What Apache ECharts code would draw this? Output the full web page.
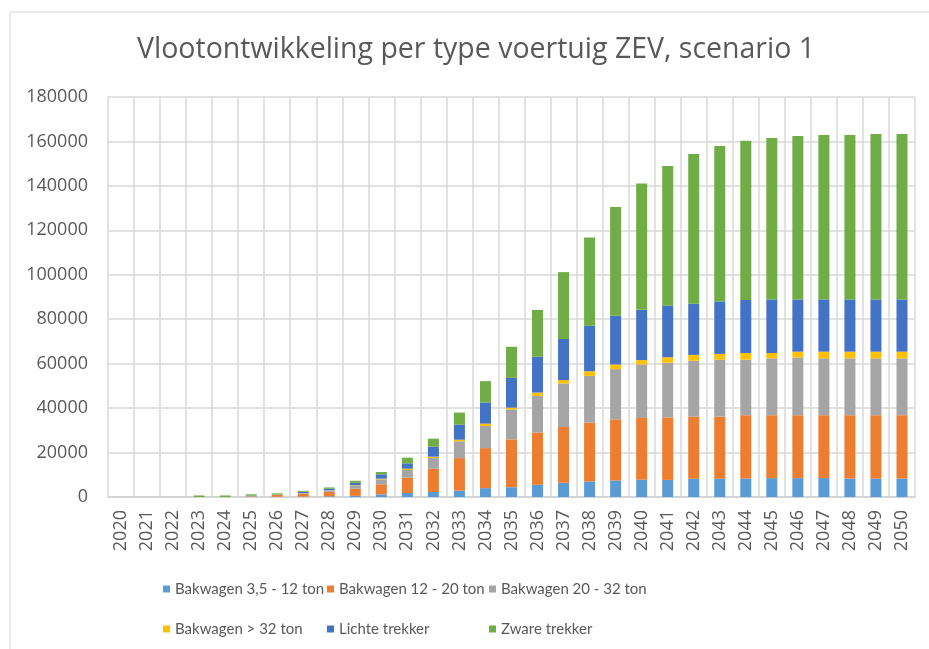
<!DOCTYPE html>
<html>
<head>
<meta charset="utf-8">
<script src="https://cdn.jsdelivr.net/npm/echarts@6/dist/echarts.min.js"></script>
<style>
    html, body { margin: 0; padding: 0; background: #fff; }
    #chart { width: 929px; height: 649px; }
</style>
</head>
<body>
<div id="chart"></div>
<script>
// jaren 2020 - 2050
var years = ['2020', '2021', '2022', '2023', '2024', '2025', '2026', '2027', '2028', '2029',
    '2030', '2031', '2032', '2033', '2034', '2035', '2036', '2037', '2038', '2039',
    '2040', '2041', '2042', '2043', '2044', '2045', '2046', '2047', '2048', '2049', '2050'];

var bak3_12 = [0, 0, 0, 0, 0, 50, 100, 200, 300, 500,
    1200, 1800, 2250, 2900, 4000, 4400, 5500, 6400, 7000, 7450,
    7770, 7700, 8200, 8200, 8300, 8500, 8500, 8500, 8300, 8300, 8300];
var bak12_20 = [0, 0, 0, 0, 0, 250, 800, 1200, 2000, 3200,
    4500, 6900, 10500, 14600, 18000, 21500, 23500, 25100, 26500, 27500,
    27800, 28100, 28000, 28000, 28500, 28300, 28300, 28300, 28500, 28500, 28500];
var bak20_32 = [0, 0, 0, 0, 0, 150, 150, 300, 600, 1400,
    2250, 3450, 4800, 7560, 9950, 13500, 16500, 19600, 21000, 22600,
    24100, 24600, 25150, 25600, 25000, 25600, 26000, 25600, 25600, 25600, 25600];
var bak32 = [0, 0, 0, 0, 0, 0, 0, 50, 100, 200,
    300, 600, 600, 740, 1080, 800, 1500, 1500, 2100, 2100,
    1950, 2500, 2600, 2600, 3000, 2400, 2600, 3000, 3000, 3000, 3000];
var lichte = [0, 0, 0, 0, 0, 150, 100, 600, 700, 1100,
    1950, 2400, 4500, 6800, 9500, 13400, 16100, 18500, 20500, 21900,
    22600, 23200, 23000, 23600, 23900, 24100, 23500, 23500, 23500, 23500, 23500];
var zware = [0, 0, 0, 700, 700, 600, 500, 450, 600, 900,
    1050, 2550, 3600, 5400, 9600, 14000, 21100, 30100, 39700, 48900,
    56900, 62900, 67400, 70000, 71600, 72600, 73600, 74000, 74000, 74500, 74500];

var names = ['Bakwagen 3,5 - 12 ton', 'Bakwagen 12 - 20 ton', 'Bakwagen 20 - 32 ton',
    'Bakwagen > 32 ton', 'Lichte trekker', 'Zware trekker'];
var values = [bak3_12, bak12_20, bak20_32, bak32, lichte, zware];
var colors = ['#5B9BD5', '#ED7D31', '#A5A5A5', '#FFC000', '#4472C4', '#70AD47'];

var font = '"Open Sans", "Noto Sans", sans-serif';
var legendFont = 'Lato, "Open Sans", sans-serif';
var textColor = '#595959';

// legenda in twee rijen van drie kolommen
var legendPos = [[158, 574], [322, 574], [484, 574], [158, 614], [322, 614], [484, 614]];
var legends = names.map(function (n, i) {
    return {
        data: [n],
        left: legendPos[i][0],
        top: legendPos[i][1],
        itemWidth: 7,
        itemHeight: 7,
        icon: 'rect',
        textStyle: {
            color: textColor,
            fontSize: 15,
            lineHeight: 20,
            fontFamily: legendFont
        }
    };
});

var series = names.map(function (n, i) {
    return {
        name: n,
        type: 'bar',
        stack: 'totaal',
        barWidth: 11,
        itemStyle: { color: colors[i] },
        data: values[i]
    };
});

var option = {
    backgroundColor: '#fff',
    animation: false,
    title: {
        text: 'Vlootontwikkeling per type voertuig ZEV, scenario 1',
        left: 137,
        top: 33,
        padding: 0,
        textStyle: {
            color: textColor,
            fontSize: 28.5,
            fontWeight: 'normal',
            lineHeight: 34,
            fontFamily: font
        }
    },
    graphic: [{
        type: 'rect',
        shape: { x: 10, y: 12, width: 950, height: 700 },
        style: { fill: 'none', stroke: '#d9d9d9', lineWidth: 1 },
        silent: true
    }],
    legend: legends,
    grid: {
        left: 108,
        right: 14,
        top: 97,
        bottom: 152
    },
    xAxis: {
        type: 'category',
        data: years,
        axisLine: { show: true, lineStyle: { color: '#d0d0d0', width: 1.5 } },
        axisTick: { show: false },
        splitLine: { show: true, interval: 0, lineStyle: { color: '#d9d9d9', width: 1.5 } },
        axisLabel: {
            interval: 0,
            rotate: 90,
            margin: 13,
            color: textColor,
            fontSize: 18,
            fontFamily: font
        }
    },
    yAxis: {
        type: 'value',
        min: 0,
        max: 180000,
        interval: 20000,
        axisLine: { show: false },
        axisTick: { show: false },
        splitLine: { lineStyle: { color: '#d9d9d9', width: 1.5 } },
        axisLabel: {
            margin: 20,
            color: textColor,
            fontSize: 18,
            fontFamily: font,
            formatter: function (v) { return String(v); }
        }
    },
    series: series
};

var mychart = echarts.init(document.getElementById('chart'));
mychart.setOption(option);
window.addEventListener('resize', function () {
    mychart.resize();
});
</script>
</body>
</html>
